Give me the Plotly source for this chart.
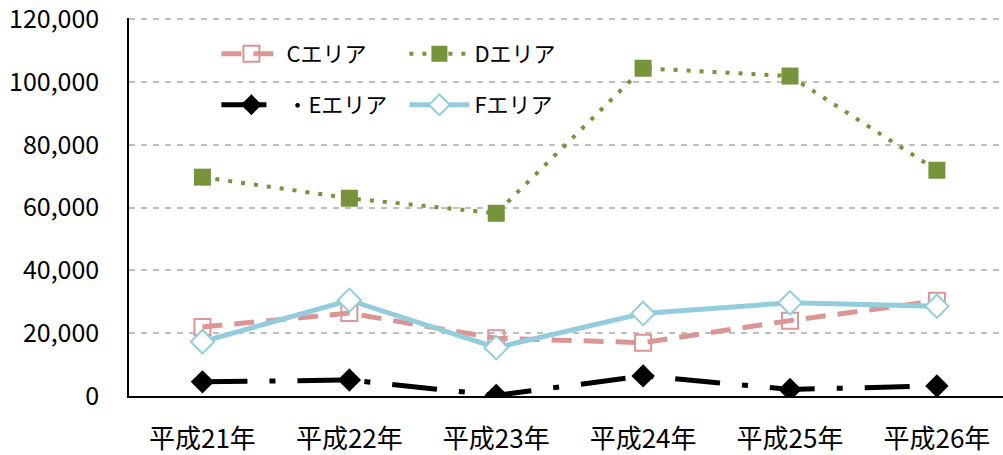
import plotly.graph_objects as go

years = ['平成21年', '平成22年', '平成23年', '平成24年', '平成25年', '平成26年']
c_area = [22000, 26400, 18400, 17000, 24000, 30300]
d_area = [69700, 63000, 58200, 104400, 101900, 71900]
e_area = [4500, 5100, 200, 6400, 2100, 3200]
f_area = [17300, 30500, 15400, 26300, 29700, 28600]
y_ticks = [0, 20000, 40000, 60000, 80000, 100000, 120000]

FONT = 'Noto Sans CJK JP'

fig = go.Figure()
fig.add_trace(go.Scatter(
    x=years, y=c_area, name='Cエリア', mode='lines+markers',
    line=dict(color='#DA9694', width=5, dash='20px,12px'),
    marker=dict(symbol='square-open', size=16, color='#DA9694',
                line=dict(width=2)),
    legend='legend'))
fig.add_trace(go.Scatter(
    x=years, y=d_area, name='Dエリア', mode='lines+markers',
    line=dict(color='#77933C', width=4, dash='4px,9px'),
    marker=dict(symbol='square', size=17, color='#77933C'),
    legend='legend'))
fig.add_trace(go.Scatter(
    x=years, y=e_area, name='・Eエリア', mode='lines+markers',
    line=dict(color='black', width=5, dash='45px,22px,6px,22px'),
    marker=dict(symbol='diamond', size=18, color='black'),
    legend='legend2'))
fig.add_trace(go.Scatter(
    x=years, y=f_area, name='Fエリア', mode='lines+markers',
    line=dict(color='#93CDDD', width=5),
    marker=dict(symbol='diamond', size=18, color='white',
                line=dict(color='#93CDDD', width=2)),
    legend='legend2'))

legend_common = dict(orientation='h', xanchor='left', yanchor='middle',
                     bgcolor='rgba(0,0,0,0)', entrywidth=113,
                     font=dict(family=FONT, size=22, color='black'),
                     itemwidth=60)
fig.update_layout(
    width=1003, height=455,
    margin=dict(l=129, r=0, t=18, b=59),
    paper_bgcolor='white', plot_bgcolor='white',
    showlegend=True,
    legend=dict(x=0.1, y=0.905, **legend_common),
    legend2=dict(x=0.1, y=0.77, **legend_common),
    font=dict(family=FONT, size=20, color='black'),
    xaxis=dict(range=[-0.5, 5.45], showgrid=False, showline=True,
               linecolor='black', linewidth=2, ticks='', automargin=False,
               ticklabelstandoff=19, tickfont=dict(size=26),
               ticklabeloverflow='allow'),
    # a little headroom so the top gridline is still drawn
    yaxis=dict(range=[0, 120400], tickvals=y_ticks, tickformat=',d',
               showgrid=True, gridcolor='#BFBFBF', griddash='6px,6px',
               gridwidth=1.5, showline=True, linecolor='black',
               linewidth=1.5, zeroline=False, ticks='', automargin=False,
               ticklabelstandoff=23, tickfont=dict(size=25),
               ticklabeloverflow='allow'),
)

fig.write_html('out.html', config={'displayModeBar': False},
               post_script="document.body.style.margin='0';")
